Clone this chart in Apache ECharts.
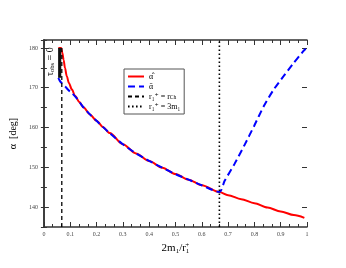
<!DOCTYPE html>
<html><head><meta charset="utf-8">
<script src="https://cdn.jsdelivr.net/npm/echarts@6/dist/echarts.min.js"></script>
<style>html,body{margin:0;padding:0;background:#fff}#c{width:346px;height:268px}</style>
</head><body><div id="c"></div>
<script>
// ---- data ----
const redX = [0.055,0.06,0.066,0.07,0.075,0.08,0.087,0.095,0.106,0.119,0.135,0.15,0.175,0.2,0.225,0.25,0.3,0.35,0.4,0.45,0.5,0.55,0.6,0.667,0.7,0.75,0.8,0.85,0.9,0.95,0.99];
const redY = [180,180,180,178.8,177,175,172.9,171.2,169.6,167.9,166.4,165.1,163.3,161.7,160.1,158.6,155.8,153.5,151.6,149.9,148.3,146.9,145.5,143.8,143.0,142.0,141.0,139.9,138.9,138.0,137.3];
const blueX = [0.055,0.06,0.07,0.081,0.095,0.106,0.125,0.15,0.175,0.2,0.225,0.25,0.3,0.35,0.4,0.45,0.5,0.55,0.6,0.667,0.687,0.724,0.761,0.799,0.836,0.874,0.911,0.949,0.986,0.995];
const blueY = [172.5,171.8,171.0,170.3,169.3,168.7,167.3,165.1,163.3,161.7,160.1,158.6,155.8,153.5,151.6,149.9,148.3,146.9,145.5,143.8,146.6,150.8,155.4,160.4,165.4,169.6,172.9,176.2,179.2,179.8];
const rChX = [0.068,0.068];
const rChY = [135,180];
const r3mX = [0.667,0.667];
const r3mY = [135,182];
const tauBand = [[0.054,0.066,172.5,180]];
const xTicks = [0,0.1,0.2,0.3,0.4,0.5,0.6,0.7,0.8,0.9,1];
const yTicks = [140,150,160,170,180];
const legendNames = ['α̂','ᾱ','r₁⁺ = r_Ch','r₁⁺ = 3m₁'];

const pairs = (xs, ys) => xs.map((x, i) => [x, ys[i]]);
const serif = '"Liberation Serif","DejaVu Serif",serif';
const tickLbl = { fontFamily: serif, fontSize: 6, color: '#444' };
const axLine = { show: true, lineStyle: { color: '#333', width: 1.5 } };

const chart = echarts.init(document.getElementById('c'));
const xBase = {
  type: 'value', min: 0, max: 1, interval: 0.1,
  axisLine: axLine,
  axisTick: { inside: true, length: 5, lineStyle: { color: '#333', width: 1 } },
  minorTick: { show: true, splitNumber: 3, length: 3, lineStyle: { color: '#333', width: 1 } },
  splitLine: { show: false }, minorSplitLine: { show: false }
};
const yMinor = {
  type: 'value', min: 135, max: 182, interval: 5,
  axisLine: axLine,
  axisTick: { inside: true, length: 3, lineStyle: { color: '#333', width: 1 } },
  splitLine: { show: false }
};
const yMajor = {
  type: 'value', min: 135, max: 182,
  axisLine: { show: false },
  axisTick: { inside: true, length: 5, customValues: yTicks, lineStyle: { color: '#333', width: 1 } },
  axisLabel: { show: false },
  splitLine: { show: false }
};

chart.setOption({
  animation: false,
  grid: { left: 40, right: 39, top: 40, bottom: 41 },
  xAxis: [
    Object.assign({}, xBase, {
      position: 'bottom',
      axisLabel: Object.assign({ margin: 4, formatter: v => String(+v.toFixed(1)), customValues: xTicks }, tickLbl),
      name: '{a|2m}{s|1}{a|/r}{s|1}{p|+}', nameLocation: 'middle', nameGap: 8,
      nameTextStyle: { rich: {
        a: { fontFamily: serif, fontSize: 11, color: '#000' },
        s: { fontFamily: serif, fontSize: 7, color: '#000', padding: [6, 0, 0, 0] },
        p: { fontFamily: serif, fontSize: 7, color: '#000', padding: [0, 0, 5, -4] }
      } }
    }),
    Object.assign({}, xBase, { position: 'top', axisLabel: { show: false } })
  ],
  yAxis: [
    Object.assign({}, yMinor, {
      position: 'left',
      axisLabel: Object.assign({ margin: 6, formatter: v => (v % 10 === 0 ? String(v) : '') }, tickLbl),
      name: 'α  [deg]', nameLocation: 'middle', nameGap: 12,
      nameTextStyle: { fontFamily: serif, fontSize: 10, color: '#000' }
    }),
    Object.assign({}, yMinor, { position: 'right', axisLabel: { show: false } }),
    Object.assign({}, yMajor, { position: 'left' }),
    Object.assign({}, yMajor, { position: 'right' })
  ],
  legend: {
    left: 124, top: 69, orient: 'vertical',
    data: legendNames,
    borderColor: '#555', borderWidth: 1, borderRadius: 0,
    padding: [3, 4, 3, 3], itemGap: 1, itemWidth: 16, itemHeight: 9,
    backgroundColor: '#fff',
    itemStyle: { opacity: 0 },
    formatter: n => {
      if (n === 'r₁⁺ = r_Ch') return 'r₁⁺ = r{s|Ch}';
      return n;
    },
    textStyle: { fontFamily: serif, fontSize: 8, color: '#000', lineHeight: 9,
      rich: { s: { fontFamily: serif, fontSize: 5.5, color: '#000', padding: [3, 0, 0, 0] } } }
  },
  graphic: [{
    type: 'text', x: 44, y: 76, rotation: Math.PI / 2,
    style: { text: '{t|τ}{s|obs}{t| = 0}', fill: '#000',
      rich: { t: { fontFamily: serif, fontSize: 10, fill: '#000' },
              s: { fontFamily: serif, fontSize: 6.5, fill: '#000', padding: [5, 0, 0, 0] } } }
  }],
  series: [
    { name: legendNames[0], type: 'line', data: pairs(redX, redY), symbol: 'none', z: 3,
      smooth: 0.3, smoothMonotone: 'x',
      lineStyle: { color: '#ff0000', width: 2 }, itemStyle: { color: '#ff0000' } },
    { name: legendNames[1], type: 'line', data: pairs(blueX, blueY), symbol: 'none', z: 4,
      smooth: 0.25,
      lineStyle: { color: '#0000ff', width: 2, type: [7, 4] }, itemStyle: { color: '#0000ff' } },
    { name: legendNames[2], type: 'line', data: pairs(rChX, rChY), symbol: 'none', z: 5,
      lineStyle: { color: '#000', width: 1.3, type: [4, 3] }, itemStyle: { color: '#000' } },
    { name: legendNames[3], type: 'line', data: pairs(r3mX, r3mY), symbol: 'none', z: 5,
      lineStyle: { color: '#000', width: 1.6, type: [1.6, 2.4] }, itemStyle: { color: '#000' } },
    { name: 'band', type: 'custom', data: tauBand, z: 6,
      encode: { x: [0, 1], y: [2, 3] },
      renderItem: (params, api) => {
        const p0 = api.coord([api.value(0), api.value(3)]);
        const p1 = api.coord([api.value(1), api.value(2)]);
        return { type: 'rect', shape: { x: p0[0], y: p0[1], width: p1[0] - p0[0], height: p1[1] - p0[1] },
                 style: { fill: '#111' } };
      } }
  ]
});
</script></body></html>
